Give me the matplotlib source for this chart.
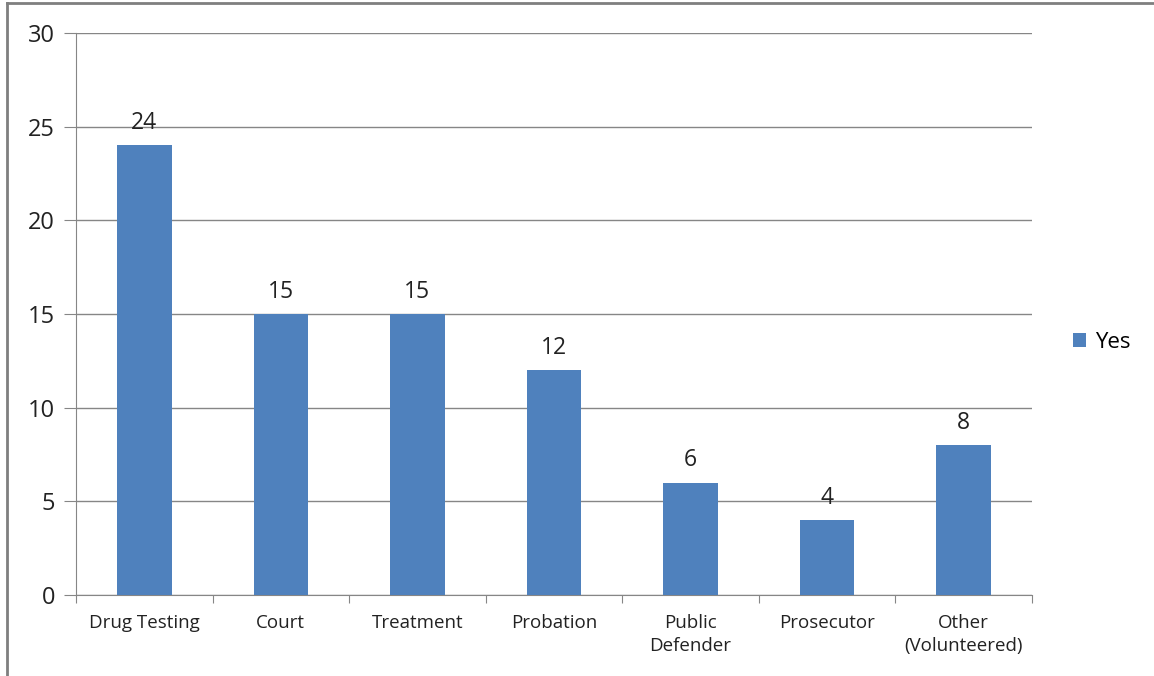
import matplotlib.pyplot as plt
import numpy as np

categories = ["Drug Testing", "Court", "Treatment", "Probation",
              "Public\nDefender", "Prosecutor", "Other\n(Volunteered)"]
values = [24, 15, 15, 12, 6, 4, 8]

plt.rcParams['font.family'] = ['Open Sans', 'DejaVu Sans']

fig = plt.figure(figsize=(11.54, 6.76), dpi=100)
ax = fig.add_axes([76/1154, 1 - 595/676, (1032-76)/1154, (595-33)/676])

x = np.arange(len(categories))
bars = ax.bar(x, values, width=0.4, color='#4F81BD', label='Yes', zorder=3)

for xi, v in zip(x, values):
    ax.text(xi, v + 0.55, str(v), ha='center', va='bottom', fontsize=16.5, color='#222222')

ax.set_xlim(-0.5, len(categories) - 0.5)
ax.set_ylim(0, 30)
ax.set_yticks(range(0, 31, 5))
ax.yaxis.grid(True, color='#868686', linewidth=1, zorder=0)

ax.set_xticks(np.arange(-0.5, len(categories), 1))
ax.set_xticklabels([])
ax.set_xticks(x, minor=True)
ax.set_xticklabels(categories, minor=True, fontsize=13.5, color='#222222', linespacing=1.3)
ax.tick_params(axis='x', which='major', length=6, color='#868686', direction='out')
ax.tick_params(axis='x', which='minor', length=0, pad=14)
ax.tick_params(axis='y', length=9, color='#868686', labelsize=17, labelcolor='#222222', pad=6)

for s in ['top', 'right']:
    ax.spines[s].set_visible(False)
for s in ['left', 'bottom']:
    ax.spines[s].set_color('#868686')

ax.legend(loc='center left', bbox_to_anchor=(1.022, 0.45), frameon=False,
          fontsize=16, handlelength=0.6, handleheight=0.6, handletextpad=0.4)

fig.add_artist(plt.Line2D([7/1154, 7/1154], [0, 1 - 3/676], color='#7f7f7f', linewidth=2))
fig.add_artist(plt.Line2D([7/1154, 1], [1 - 3/676, 1 - 3/676], color='#7f7f7f', linewidth=2))

fig.savefig('out.png', dpi=100)
